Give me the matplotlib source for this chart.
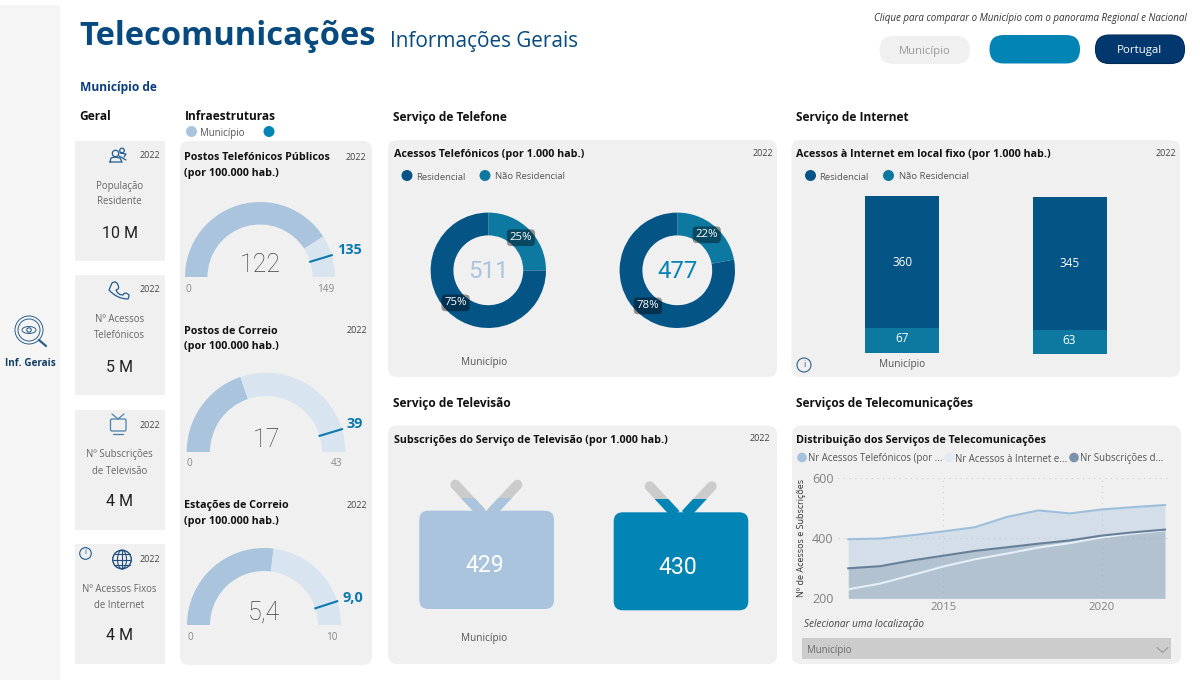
import matplotlib
matplotlib.use("Agg")
import numpy as np
import matplotlib.pyplot as plt
from matplotlib.patches import FancyBboxPatch, Circle, Ellipse, Rectangle, PathPatch
from matplotlib.path import Path

# ---------- data ----------
years = [2012, 2013, 2014, 2015, 2016, 2017, 2018, 2019, 2020, 2021, 2022]
telefone = [397, 399, 410, 423, 437, 471, 493, 483, 496, 504, 511]
internet = [230, 249, 277, 306, 330, 349, 369, 384, 403, 416, 427]
televisao = [300, 307, 326, 342, 358, 370, 382, 393, 409, 420, 429]
series_names = ["Nr Acessos Telefónicos (por ...", "Nr Acessos à Internet e...", "Nr Subscrições d..."]

kpi_labels = [("População", "Residente"), ("Nº Acessos", "Telefónicos"),
              ("Nº Subscrições", "de Televisão"), ("Nº Acessos Fixos", "de Internet")]
kpi_values = ["10 M", "5 M", "4 M", "4 M"]

gauge_titles = [("Postos Telefónicos Públicos", "(por 100.000 hab.)"),
                ("Postos de Correio", "(por 100.000 hab.)"),
                ("Estações de Correio", "(por 100.000 hab.)")]
gauge_values = [122, 17, 5.4]
gauge_targets = [135, 39, 9.0]
gauge_maxima = [149, 43, 10]
gauge_value_labels = ["122", "17", "5,4"]
gauge_target_labels = ["135", "39", "9,0"]
gauge_max_labels = ["149", "43", "10"]

tel_nao_res = [128, 105]
tel_res = [383, 372]
tel_totals = ["511", "477"]

net_res = [360, 345]
net_nao_res = [67, 63]

tv_values = ["429", "430"]

# ---------- style ----------
PANEL = "#f0f0f0"
NAVY = "#055486"
TEAL = "#0e79a0"
LIGHT = "#a9c4dc"
PALE = "#d8e5f0"
BLUE = "#0285b5"
TITLE = "#074a80"
SANS = "Open Sans"
NUM = "Roboto"

plt.rcParams["font.family"] = [SANS, "DejaVu Sans"]
W, H = 1200, 684
fig = plt.figure(figsize=(12, 6.84), dpi=100, facecolor="white")
bg = fig.add_axes([0, 0, 1, 1], zorder=0)
bg.set_xlim(0, W)
bg.set_ylim(H, 0)
bg.axis("off")


def T(x, y, s, px=11, color="#333333", ha="left", va="center", weight="normal", style="normal", family=None, **kw):
    return bg.text(x, y + 3, s, fontsize=px * 0.72, color=color, ha=ha, va=va, fontweight=weight,
                   fontstyle=style, family=family or SANS, zorder=6, **kw)


def rbox(x0, y0, x1, y1, r=8, fc=PANEL, ec="none", lw=0, z=1):
    p = FancyBboxPatch((x0, y0), x1 - x0, y1 - y0, boxstyle=f"round,pad=0,rounding_size={r}",
                       fc=fc, ec=ec, lw=lw, zorder=z)
    bg.add_patch(p)
    return p


def sub(x0, y0, x1, y1):
    a = fig.add_axes([x0 / W, 1 - y1 / H, (x1 - x0) / W, (y1 - y0) / H], zorder=3)
    a.patch.set_alpha(0)
    return a


def dot(x, y, c, r=6):
    bg.add_patch(Circle((x, y), r, fc=c, ec="none", zorder=5))


ICON = "#1f5c8f"
def line(xs, ys, c=ICON, lw=0.9, **kw):
    bg.plot(xs, ys, color=c, lw=lw, zorder=6, solid_capstyle="round", **kw)


def ring(x, y, r, c=ICON, lw=0.9, fc="none"):
    bg.add_patch(Circle((x, y), r, fc=fc, ec=c, lw=lw, zorder=6))


# ---------- frame ----------
bg.add_patch(Rectangle((0, 5), 60, 675, fc="#f5f5f5", ec="none", zorder=1))
ring(29, 330, 14, "#2c5f88", 0.7)
ring(29, 330, 11, "#2c5f88", 0.7)
bg.add_patch(Ellipse((29, 330), 14, 7, fc="none", ec="#2c5f88", lw=0.7, zorder=6))
ring(29, 330, 2.2, "#2c5f88", 0.8)
line([39, 46], [340, 346], "#2c5f88", 1.6)
T(30, 360, "Inf. Gerais", 10, "#123f66", ha="center", weight="bold")

T(79, 33.5, "Telecomunicações", 32.6, TITLE, weight="bold")
T(390, 39, "Informações Gerais", 20.8, TITLE)
T(80, 84, "Município de", 12, "#0b3f7c", weight="bold")
T(1187, 16, "Clique para comparar o Município com o panorama Regional e Nacional", 9.8, "#333333", ha="right", style="italic")

rbox(879.5, 36, 970, 64, 14, PANEL)
T(925, 48.5, "Município", 11.3, "#9a9a9a", ha="center")
rbox(989.5, 35, 1080, 63.5, 14, BLUE)
rbox(1095.5, 35, 1184.5, 63.5, 14, "#03386f", "#022a57", 0.8)
T(1140, 48, "Portugal", 11.5, "white", ha="center")

SEC = 11.9
T(79.5, 114, "Geral", SEC, "#111111", weight="bold")
T(185, 114, "Infraestruturas", SEC, "#111111", weight="bold")
dot(191.5, 131.5, LIGHT, 5.5)
T(200, 130.5, "Município", 9.6, "#555555")
dot(269, 131.5, BLUE, 5.5)
T(393, 114, "Serviço de Telefone", SEC, "#111111", weight="bold")
T(796, 115, "Serviço de Internet", SEC, "#111111", weight="bold")
T(393, 400, "Serviço de Televisão", SEC, "#111111", weight="bold")
T(796, 400, "Serviços de Telecomunicações", SEC, "#111111", weight="bold")

# ---------- KPI cards ----------
kpi_tops = [141, 275, 410, 544]
for top, (l1, l2), v in zip(kpi_tops, kpi_labels, kpi_values):
    bg.add_patch(Rectangle((75, top), 90, 120, fc=PANEL, ec="none", zorder=1))
    T(150, top + 12, "2022", 9, "#444444", ha="center")
    T(119.5, top + 42, l1, 9.6, "#666666", ha="center")
    T(119.5, top + 58, l2, 9.6, "#666666", ha="center")
    T(120, top + 89, v, 16, "#222222", ha="center", family=NUM)

# people icon
ring(122, 150.5, 2.3)
ring(115.5, 153.5, 3.2)
line(*zip(*[(110, 162), (111, 158), (115, 157), (120, 158), (122, 162), (110, 162)]))
line([120, 126, 124], [153, 154, 157])
line([119, 126], [156, 160])
# phone icon
ph = Path([(112, 283), (116, 280), (118, 285), (120, 289), (116, 290), (118, 295), (123, 295),
           (125, 291), (129, 295), (129, 297), (128, 299), (117, 299), (109, 290), (112, 283)],
          [Path.MOVETO, Path.CURVE3, Path.CURVE3, Path.CURVE3, Path.CURVE3, Path.CURVE3, Path.CURVE3,
           Path.CURVE3, Path.CURVE3, Path.CURVE3, Path.CURVE3, Path.CURVE3, Path.CURVE3, Path.CLOSEPOLY])
bg.add_patch(PathPatch(ph, fc="none", ec=ICON, lw=0.9, zorder=6))
# tv icon
rbox(110.5, 419, 126, 431, 1.5, "none", "#4a7fa8", 0.9, 6)
line([112, 118, 124], [414, 419, 414], "#4a7fa8")
line([113, 123], [433.5, 433.5], "#4a7fa8")
# globe + info
ring(122, 559.5, 9.3, "#1f4f80", 1)
bg.add_patch(Ellipse((122, 559.5), 9, 18.6, fc="none", ec="#1f4f80", lw=0.8, zorder=6))
line([113, 131], [559.5, 559.5], "#1f4f80", 0.8)
line([114.5, 129.5], [554, 554], "#1f4f80", 0.8)
line([114.5, 129.5], [565, 565], "#1f4f80", 0.8)
line([122, 122], [550, 569], "#1f4f80", 0.8)
ring(85.5, 553.5, 5.8, "#1f5c8f", 0.8)
T(85.5, 550, "i", 8, "#1f5c8f", ha="center")

# ---------- gauges ----------
rbox(180, 141, 372, 665, 9, PANEL)
gauge_geom = [(260, 277, 75, 52.5), (266, 452, 79.3, 56), (264, 625, 77, 54)]
gauge_title_y = [154.5, 328, 502.5]
gauge_year_x = [355.5, 356.5, 356.5]
target_lab = [(349, 247), (355, 421.5), (353, 595.5)]
for i in range(3):
    cx, cy, R, r = gauge_geom[i]
    v, tg, mx = gauge_values[i], gauge_targets[i], gauge_maxima[i]
    a = sub(cx - R, cy - R, cx + R, cy + R)
    a.pie([v, mx - v, mx], colors=[LIGHT, PALE, "none"], startangle=180, counterclock=False, radius=1,
          wedgeprops=dict(width=1 - r / R, linewidth=0))
    ang = np.pi * (1 - tg / mx)
    a.plot([r / R * np.cos(ang), np.cos(ang)], [r / R * np.sin(ang), np.sin(ang)], color="#0b79ad", lw=1.5)
    a.set_xlim(-1, 1)
    a.set_ylim(-1, 1)
    a.axis("off")
    y = gauge_title_y[i]
    T(184.5, y, gauge_titles[i][0], 10.7, "#111111", weight="bold")
    T(184.5, y + 16, gauge_titles[i][1], 10.7, "#111111", weight="bold")
    T(gauge_year_x[i], y - 0.5, "2022", 9, "#444444", ha="center")
    T(cx, cy - 15, gauge_value_labels[i], 25, "#3f3f3f", ha="center", family=NUM, weight="light")
    T(target_lab[i][0], target_lab[i][1], gauge_target_labels[i], 14.5, "#0b79ad", ha="center", weight="bold")
    T(cx - R + 3, cy + 9, "0", 10, "#888888", ha="center")
    T(cx + R - 9, cy + 9, gauge_max_labels[i], 10, "#888888", ha="center")

# ---------- telephone ----------
rbox(388, 140, 777, 377, 9, PANEL)
T(394, 151.5, "Acessos Telefónicos (por 1.000 hab.)", 10.8, "#111111", weight="bold")
T(762.5, 150.5, "2022", 9, "#444444", ha="center")
dot(407, 175.5, NAVY, 5.5)
T(416, 174.5, "Residencial", 9.5, "#555555")
dot(485, 175.5, TEAL, 5.5)
T(495, 173.5, "Não Residencial", 9.5, "#555555")
donut_c = [(488.3, 270.3, LIGHT), (677.3, 270.3, BLUE)]
for i, (cx, cy, c) in enumerate(donut_c):
    a = sub(cx - 57.7, cy - 57.7, cx + 57.7, cy + 57.7)
    _, _, auto = a.pie([tel_nao_res[i], tel_res[i]], colors=[TEAL, NAVY], startangle=90, counterclock=False,
                       radius=1, wedgeprops=dict(width=0.395, linewidth=0), autopct="%.0f%%", pctdistance=0.8)
    for t in auto:
        t.set(color="white", fontsize=8.2, clip_on=False,
              bbox=dict(boxstyle="round,pad=0.25,rounding_size=0.35", fc=(0, 0, 0, 0.4), ec="none"))
    a.set_xlim(-1, 1)
    a.set_ylim(-1, 1)
    a.axis("off")
    T(cx, cy - 2, tel_totals[i], 24, c, ha="center", family=NUM)
T(484, 360, "Município", 10, "#555555", ha="center")

# ---------- internet ----------
rbox(791.5, 140, 1180, 377, 9, PANEL)
T(796, 151.5, "Acessos à Internet em local fixo (por 1.000 hab.)", 10.8, "#111111", weight="bold")
T(1165.5, 150.5, "2022", 9, "#444444", ha="center")
dot(810.5, 175.5, NAVY, 5.5)
T(819.5, 174.5, "Residencial", 9.5, "#555555")
dot(888.5, 175.5, TEAL, 5.5)
T(899, 173.5, "Não Residencial", 9.5, "#555555")
bar_geom = [(902.3, 196, 352.7), (1069.5, 197, 353.7)]
for i, (cx, y0, y1) in enumerate(bar_geom):
    a = sub(cx - 37, y0, cx + 37, y1)
    a.bar([0], [net_nao_res[i]], width=1, color=TEAL, linewidth=0)
    a.bar([0], [net_res[i]], width=1, bottom=[net_nao_res[i]], color=NAVY, linewidth=0)
    a.set_xlim(-0.5, 0.5)
    a.set_ylim(0, net_res[i] + net_nao_res[i])
    a.text(0, net_nao_res[i] + net_res[i] / 2, str(net_res[i]), color="white", fontsize=8.5, ha="center", va="center", family=SANS)
    a.text(0, net_nao_res[i] / 2 + 4, str(net_nao_res[i]), color="white", fontsize=8.5, ha="center", va="center", family=SANS)
    a.axis("off")
T(902.5, 361, "Município", 10, "#555555", ha="center")
ring(804, 365, 7, "#2c5f88", 0.8)
T(804, 361.5, "i", 9, "#2c5f88", ha="center")

# ---------- television ----------
rbox(388, 425.5, 777, 664, 9, PANEL)
T(394, 437.5, "Subscrições do Serviço de Televisão (por 1.000 hab.)", 10.8, "#111111", weight="bold")
T(760, 435.5, "2022", 9, "#444444", ha="center")
tv_geom = [(419.3, 554, 510.7, 609, LIGHT, 497.7), (613.7, 748.3, 512.3, 610.3, BLUE, 499)]
tv_label_x = [485.3, 677.5]
for i, (x0, x1, y0, y1, c, yf) in enumerate(tv_geom):
    xm = (x0 + x1) / 2 - 0.3
    for sgn in (-1, 1):
        xs = [xm + sgn * 31, xm + sgn * 5]
        ys = [y0 - 26, y0 + 2]
        bg.plot(xs, ys, color="#cbcbcb", lw=7.2, solid_capstyle="round", zorder=2)
        l, = bg.plot(xs, ys, color=c, lw=7.2, solid_capstyle="butt", zorder=3)
        l.set_clip_path(Rectangle((x0, yf), x1 - x0, y0 - yf + 3, transform=bg.transData))
    rbox(x0, y0, x1, y1, 9, c, z=4)
    T(tv_label_x[i], (y0 + y1) / 2 + 3, tv_values[i], 23, "white", ha="center", family=NUM)
T(484, 635.5, "Município", 10, "#555555", ha="center")

# ---------- area chart ----------
rbox(792, 425.5, 1181, 664, 9, PANEL)
T(796.5, 437.5, "Distribuição dos Serviços de Telecomunicações", 10.7, "#111111", weight="bold")
for x, xt, c, s in zip([802, 949, 1074], [808.5, 955, 1080], ["#a2c2dd", "#e2ebf4", "#7a93ab"], series_names):
    dot(x, 457.5, c, 4.8)
    T(xt, 456, s, 9.6, "#555555")
ax = sub(837.7, 478.3, 1171.7, 598.3)
ax.set_xlim(2015 - (943.3 - 837.7) / 31.67, 2015 + (1171.7 - 943.3) / 31.67)
ax.set_ylim(200, 600)
ax.fill_between(years, 200, telefone, color="#a6c3de", alpha=0.38, lw=0)
ax.fill_between(years, 200, televisao, color="#6f8aa3", alpha=0.33, lw=0)
ax.plot(years, telefone, color="#9dbfdc", lw=1.5)
ax.plot(years, internet, color="#e6eef6", lw=1.5)
ax.plot(years, televisao, color="#67809a", lw=1.5)
ax.set_xticks([2015, 2020])
ax.set_yticks([200, 400, 600])
ax.grid(True, color="#cfcfcf", ls=(0, (1, 4)), lw=0.8)
ax.set_axisbelow(True)
ax.tick_params(length=0, labelsize=8.2, labelcolor="#808080", pad=3)
for t in ax.get_yticklabels():
    t.set_fontsize(9)
for sp in ax.spines.values():
    sp.set_visible(False)
T(801, 535, "Nº de Acessos e Subscrições", 9, "#333333", ha="center", rotation=90)
T(804.5, 621.5, "Selecionar uma localização", 10, "#444444", style="italic")
bg.add_patch(Rectangle((802.3, 638.3), 368.7, 21, fc="#cccccc", ec="none", zorder=2))
T(807, 648, "Município", 9.6, "#6b6b6b")
line([1157, 1162.5, 1168], [647.5, 652.5, 647.5], "#888888", 0.6)

fig.savefig("out.png", dpi=100, facecolor="white")
